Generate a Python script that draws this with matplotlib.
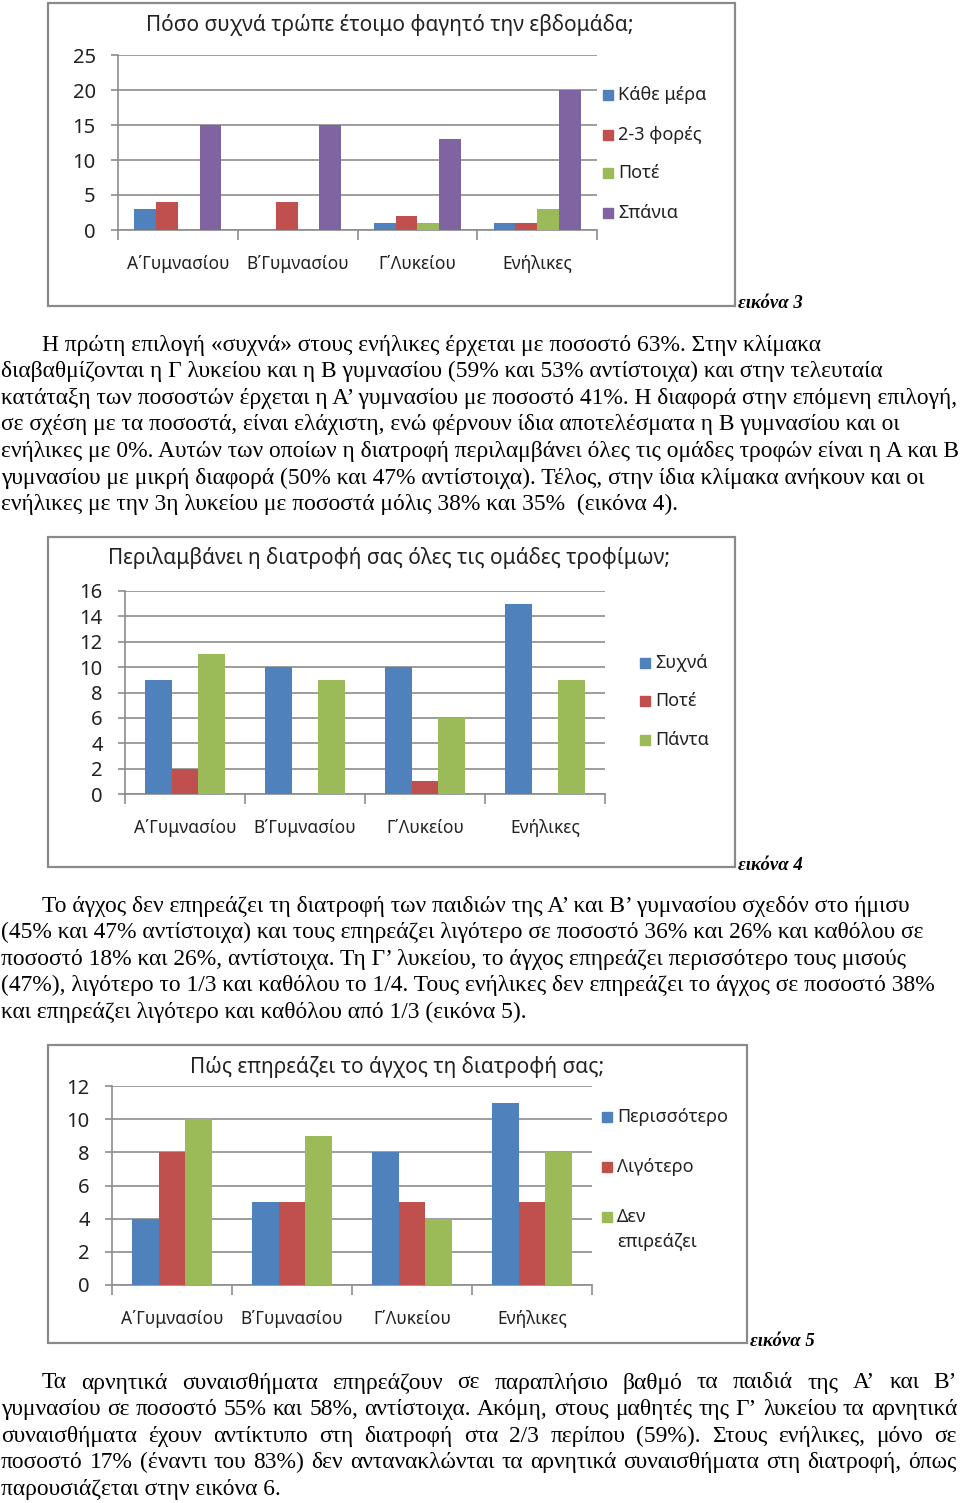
import matplotlib
matplotlib.use('Agg')
import matplotlib.pyplot as plt
from matplotlib.patches import Rectangle
import numpy as np

W, H = 960, 1503
CHART_FONT = ['Noto Sans', 'DejaVu Sans']
TEXT_FONT = ['Liberation Serif', 'DejaVu Serif']

categories = ['Α΄Γυμνασίου', 'Β΄Γυμνασίου', 'Γ΄Λυκείου', 'Ενήλικες']

# εικόνα 3
title3 = 'Πόσο συχνά τρώπε έτοιμο φαγητό την εβδομάδα;'
series3 = ['Κάθε μέρα', '2-3 φορές', 'Ποτέ', 'Σπάνια']
kathe_mera = [3, 0, 1, 1]
fores_2_3 = [4, 4, 2, 1]
pote3 = [0, 0, 1, 3]
spania = [15, 15, 13, 20]

# εικόνα 4
title4 = 'Περιλαμβάνει η διατροφή σας όλες τις ομάδες τροφίμων;'
series4 = ['Συχνά', 'Ποτέ', 'Πάντα']
sychna = [9, 10, 10, 15]
pote4 = [2, 0, 1, 0]
panta = [11, 9, 6, 9]

# εικόνα 5
title5 = 'Πώς επηρεάζει το άγχος τη διατροφή σας;'
series5 = ['Περισσότερο', 'Λιγότερο', 'Δεν\nεπιρεάζει']
perissotero = [4, 5, 8, 11]
ligotero = [8, 5, 5, 5]
den_epireazei = [10, 9, 4, 8]

para1 = [
    'Η πρώτη επιλογή «συχνά» στους ενήλικες έρχεται με ποσοστό 63%. Στην κλίμακα',
    'διαβαθμίζονται η Γ λυκείου και η Β γυμνασίου (59% και 53% αντίστοιχα) και στην τελευταία',
    'κατάταξη των ποσοστών έρχεται η Α’ γυμνασίου με ποσοστό 41%. Η διαφορά στην επόμενη επιλογή,',
    'σε σχέση με τα ποσοστά, είναι ελάχιστη, ενώ φέρνουν ίδια αποτελέσματα η Β γυμνασίου και οι',
    'ενήλικες με 0%. Αυτών των οποίων η διατροφή περιλαμβάνει όλες τις ομάδες τροφών είναι η Α και Β',
    'γυμνασίου με μικρή διαφορά (50% και 47% αντίστοιχα). Τέλος, στην ίδια κλίμακα ανήκουν και οι',
    'ενήλικες με την 3η λυκείου με ποσοστά μόλις 38% και 35%  (εικόνα 4).',
]
para2 = [
    'Το άγχος δεν επηρεάζει τη διατροφή των παιδιών της Α’ και Β’ γυμνασίου σχεδόν στο ήμισυ',
    '(45% και 47% αντίστοιχα) και τους επηρεάζει λιγότερο σε ποσοστό 36% και 26% και καθόλου σε',
    'ποσοστό 18% και 26%, αντίστοιχα. Τη Γ’ λυκείου, το άγχος επηρεάζει περισσότερο τους μισούς',
    '(47%), λιγότερο το 1/3 και καθόλου το 1/4. Τους ενήλικες δεν επηρεάζει το άγχος σε ποσοστό 38%',
    'και επηρεάζει λιγότερο και καθόλου από 1/3 (εικόνα 5).',
]
para3 = [
    'Τα αρνητικά συναισθήματα επηρεάζουν σε παραπλήσιο βαθμό τα παιδιά της Α’ και Β’',
    'γυμνασίου σε ποσοστό 55% και 58%, αντίστοιχα. Ακόμη, στους μαθητές της Γ’ λυκείου τα αρνητικά',
    'συναισθήματα έχουν αντίκτυπο στη διατροφή στα 2/3 περίπου (59%). Στους ενήλικες, μόνο σε',
    'ποσοστό 17% (έναντι του 83%) δεν αντανακλώνται τα αρνητικά συναισθήματα στη διατροφή, όπως',
    'παρουσιάζεται στην εικόνα 6.',
]

BLUE, RED, GREEN, PURPLE = '#4F81BD', '#C0504D', '#9BBB59', '#8064A2'
GRID = '#8c8c8c'

fig = plt.figure(figsize=(W / 100, H / 100), dpi=100)


def fx(x):
    return x / W


def fy(y):
    return 1 - y / H


def px_axes(x0, y0, x1, y1):
    return fig.add_axes([x0 / W, 1 - y1 / H, (x1 - x0) / W, (y1 - y0) / H])


def frame(x0, y0, x1, y1):
    fig.patches.append(Rectangle((fx(x0), fy(y1)), (x1 - x0) / W, (y1 - y0) / H,
                                 transform=fig.transFigure, fill=False,
                                 edgecolor='#8a8a8a', lw=1.6))


def bar_chart(ax, values, colors, ymax, step):
    n = len(values)
    w = 1 / (n + 1.5)
    x = np.arange(len(categories))
    for i, (vals, c) in enumerate(zip(values, colors)):
        ax.bar(x + (i - (n - 1) / 2) * w, vals, w, color=c, zorder=3)
    ax.set_xlim(-0.5, len(categories) - 0.5)
    ax.set_ylim(0, ymax)
    ax.set_yticks(np.arange(0, ymax + 1, step))
    ax.yaxis.grid(True, color=GRID, lw=1.2, zorder=0)
    ax.set_axisbelow(True)
    ax.set_xticks(np.arange(-0.5, len(categories), 1))
    ax.set_xticklabels([])
    ax.set_xticks(x, minor=True)
    ax.set_xticklabels(categories, minor=True)
    ax.tick_params(axis='x', which='major', length=7, width=1.2, color=GRID)
    ax.tick_params(axis='x', which='minor', length=0, pad=18, labelsize=12.5)
    ax.tick_params(axis='y', length=5, width=1.2, color=GRID, pad=11, labelsize=14.5)
    for t in ax.get_xticklabels(minor=True) + ax.get_yticklabels():
        t.set_family(CHART_FONT)
        t.set_color('#222222')
    for s in ['top', 'right']:
        ax.spines[s].set_visible(False)
    for s in ['left', 'bottom']:
        ax.spines[s].set_color(GRID)
        ax.spines[s].set_linewidth(1.2)


def legend(labels, colors, x, ys, size=13):
    for lab, c, y in zip(labels, colors, ys):
        fig.patches.append(Rectangle((fx(x), fy(y + 5)), 10 / W, 10 / H,
                                     transform=fig.transFigure, color=c))
        parts = lab.split('\n')
        for k, part in enumerate(parts):
            fig.text(fx(x + 15), fy(y + 25 * k), part, va='center', ha='left',
                     fontsize=size, family=CHART_FONT, color='#222222')


def caption(text, x, y):
    fig.text(fx(x), fy(y), text, va='center', ha='left', fontsize=13.5,
             family=TEXT_FONT, style='italic', weight='bold')


def justify_line(text, x0, x1, y, size):
    words = text.split(' ')
    r = fig.canvas.get_renderer()
    objs = [fig.text(0, fy(y), w, va='center', ha='left', fontsize=size, family=TEXT_FONT)
            for w in words]
    widths = [o.get_window_extent(r).width for o in objs]
    gap = (x1 - x0 - sum(widths)) / (len(words) - 1)
    pos = x0
    for o, wd in zip(objs, widths):
        o.set_x(fx(pos))
        pos += wd + gap


def paragraph(lines, y0, size=16.9, justify=False):
    for i, line in enumerate(lines):
        x = 42 if i == 0 else 1
        y = y0 + i * 26.6
        if justify and i < len(lines) - 1:
            justify_line(line, x, 957, y, size)
        else:
            fig.text(fx(x), fy(y), line, va='center', ha='left', fontsize=size,
                     family=TEXT_FONT)


# chart 1 (εικόνα 3)
frame(48, 3, 735, 306)
ax1 = px_axes(118, 55, 597, 230)
bar_chart(ax1, [kathe_mera, fores_2_3, pote3, spania], [BLUE, RED, GREEN, PURPLE], 25, 5)
fig.text(fx(390), fy(25), title3, ha='center', va='center', fontsize=15,
         family=CHART_FONT, color='#222222')
legend(series3, [BLUE, RED, GREEN, PURPLE], 603, [95, 135, 173, 213])
caption('εικόνα 3', 738, 303)

paragraph(para1, 345)

# chart 2 (εικόνα 4)
frame(48, 537, 735, 867)
ax2 = px_axes(125, 591, 605, 794)
bar_chart(ax2, [sychna, pote4, panta], [BLUE, RED, GREEN], 16, 2)
fig.text(fx(389), fy(558), title4, ha='center', va='center', fontsize=15,
         family=CHART_FONT, color='#222222')
legend(series4, [BLUE, RED, GREEN], 640, [663, 701, 740])
caption('εικόνα 4', 738, 865)

paragraph(para2, 906)

# chart 3 (εικόνα 5)
frame(48, 1045, 747, 1343)
ax3 = px_axes(112, 1086, 592, 1285)
bar_chart(ax3, [perissotero, ligotero, den_epireazei], [BLUE, RED, GREEN], 12, 2)
fig.text(fx(397), fy(1067), title5, ha='center', va='center', fontsize=15,
         family=CHART_FONT, color='#222222')
legend(series5, [BLUE, RED, GREEN], 602, [1117, 1167, 1217])
caption('εικόνα 5', 750, 1341)

paragraph(para3, 1383, justify=True)

fig.savefig('out.png', dpi=100)
